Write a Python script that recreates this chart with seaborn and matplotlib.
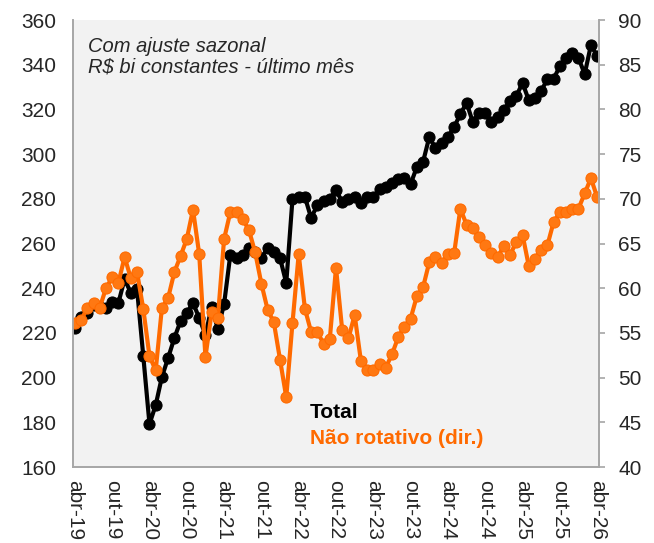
import numpy as np
import pandas as pd
import matplotlib
matplotlib.use("Agg")
import matplotlib.pyplot as plt
import seaborn as sns

# Monthly series, abr-19 .. abr-26
total = [222.2, 227.1, 228.9, 232.5, 231.6, 231.1, 233.8, 233.4, 244.1, 237.9,
         239.5, 209.7, 179.2, 187.7, 200.3, 208.8, 217.7, 225.3, 228.9, 233.4,
         226.7, 219.1, 231.6, 221.7, 232.9, 254.9, 253.5, 254.9, 258.0, 256.2,
         253.5, 258.0, 256.2, 253.5, 242.3, 279.9, 280.8, 280.8, 271.4, 277.2,
         279.0, 279.9, 283.9, 278.6, 279.9, 280.8, 278.1, 280.8, 280.8, 284.4,
         285.3, 287.1, 288.9, 289.3, 286.6, 294.2, 296.5, 307.6, 302.7, 305.0,
         307.6, 312.1, 317.9, 322.9, 314.4, 318.4, 318.4, 314.4, 316.6, 319.7,
         323.8, 326.0, 331.8, 324.2, 325.1, 328.2, 333.6, 333.6, 339.4, 343.0,
         345.2, 343.0, 335.8, 348.8, 343.9]

nao_rotativo = [56.1, 56.4, 57.8, 58.3, 57.8, 60.0, 61.2, 60.6, 63.5, 61.1,
                61.8, 57.7, 52.4, 50.8, 57.8, 58.9, 61.8, 63.6, 65.5, 68.8,
                63.8, 52.3, 57.3, 56.7, 65.5, 68.5, 68.5, 67.7, 66.5, 64.0,
                60.5, 57.6, 56.2, 52.0, 47.8, 56.1, 63.8, 57.7, 55.1, 55.1,
                53.8, 54.3, 62.3, 55.3, 54.4, 57.0, 51.9, 50.9, 50.9, 51.5,
                51.1, 52.6, 54.5, 55.7, 56.6, 59.1, 60.1, 62.9, 63.5, 62.8,
                63.8, 63.9, 68.9, 67.1, 66.7, 65.7, 64.8, 63.9, 63.5, 64.7,
                63.7, 65.2, 66.0, 62.5, 63.3, 64.3, 64.8, 67.4, 68.5, 68.5,
                68.9, 68.9, 70.6, 72.3, 70.2]

tick_labels = ['abr-19', 'out-19', 'abr-20', 'out-20', 'abr-21', 'out-21',
               'abr-22', 'out-22', 'abr-23', 'out-23', 'abr-24', 'out-24',
               'abr-25', 'out-25', 'abr-26']

df = pd.DataFrame({'mes': np.arange(len(total)), 'total': total,
                   'nao_rot': nao_rotativo})

sns.set_style('white')
plt.rcParams['font.family'] = ['Liberation Sans', 'DejaVu Sans']

fig = plt.figure(figsize=(6.54, 5.43), dpi=100)
ax = fig.add_axes([73/654, 1 - 467/543, 526/654, 447/543])
ax.set_facecolor('#F2F2F2')
ax2 = ax.twinx()
ax2.patch.set_visible(False)

orange = '#FF6A00'
sns.lineplot(data=df, x='mes', y='total', ax=ax, color='black', lw=3,
             marker='o', markersize=8, markeredgecolor='black')
sns.lineplot(data=df, x='mes', y='nao_rot', ax=ax2, color=orange, lw=3,
             marker='o', markersize=8, markerfacecolor='#FF7812',
             markeredgecolor=orange)

ax.set_xlim(-0.3, len(total) - 0.7)
ax.set_ylim(160, 360)
ax2.set_ylim(40, 90)
ax.set_yticks(range(160, 361, 20))
ax2.set_yticks(range(40, 91, 5))
ax.set_xticks(range(0, len(total), 6))
ax.set_xticklabels(tick_labels, rotation=270, ha='center', va='top')

for a in (ax, ax2):
    a.set_xlabel('')
    a.set_ylabel('')
    for s in a.spines.values():
        s.set_color('#A6A6A6')
        s.set_linewidth(1.2)
    a.spines['top'].set_visible(False)

ax.tick_params(axis='x', length=0, pad=9, labelsize=15)
ax.tick_params(axis='y', length=0, pad=12, labelsize=15)
ax2.tick_params(axis='y', direction='out', length=4, width=1.2,
                color='#A6A6A6', pad=10, labelsize=15)

ax.text(0.028, 0.962, 'Com ajuste sazonal\nR$ bi constantes - último mês',
        transform=ax.transAxes, ha='left', va='top', fontsize=14.5,
        style='italic', linespacing=1.12)
ax.text(0.45, 0.122, 'Total', transform=ax.transAxes, ha='left',
        va='center', fontsize=15, fontweight='bold', color='black')
ax.text(0.45, 0.064, 'Não rotativo (dir.)', transform=ax.transAxes,
        ha='left', va='center', fontsize=15, fontweight='bold', color=orange)

plt.savefig('out.png', dpi=100)
